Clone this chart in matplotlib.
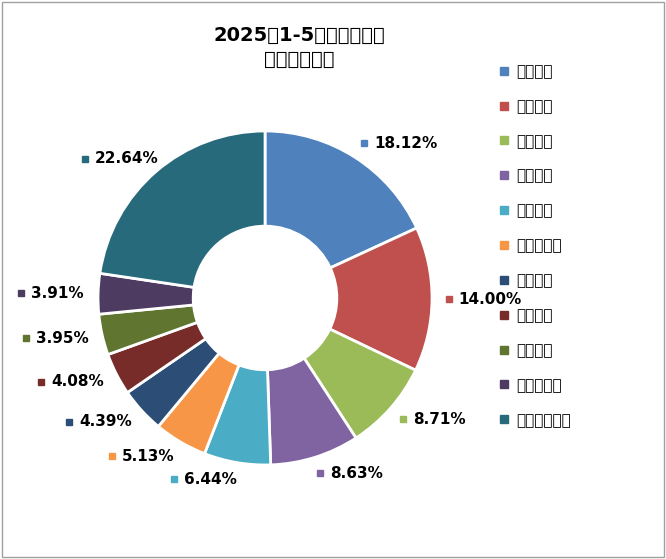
import glob
import numpy as np
import matplotlib
matplotlib.use('Agg')
import matplotlib.pyplot as plt
from matplotlib import font_manager
from matplotlib.lines import Line2D

# make sure a CJK font is registered
for f in glob.glob('/usr/share/fonts/**/*CJK*', recursive=True):
    try:
        font_manager.fontManager.addfont(f)
    except Exception:
        pass
cjk = [f.name for f in font_manager.fontManager.ttflist if 'CJK SC' in f.name]
plt.rcParams['font.family'] = (cjk[:1] or ['Noto Sans CJK SC']) + ['DejaVu Sans']

companies = ['潍柴控股', '玉柴集团', '云内动力', '安徽全柴', '浙江新柴', '东风康明斯',
             '江铃汽车', '蜂巢动力', '解放动力', '上海新动力', '其他企业合计']
shares = [18.12, 14.00, 8.71, 8.63, 6.44, 5.13, 4.39, 4.08, 3.95, 3.91, 22.64]
colors = ['#4F81BD', '#C0504D', '#9BBB59', '#8064A2', '#4BACC6', '#F79646',
          '#2C4D75', '#772C2A', '#5F7530', '#4D3B62', '#276A7C']

fig = plt.figure(figsize=(6.66, 5.59), dpi=100)
ax = fig.add_axes([0.398 - 0.2508, 0.467 - 0.2988, 0.5015, 0.5975])
wedges, _ = ax.pie(shares, colors=colors, startangle=90, counterclock=False,
                   wedgeprops=dict(width=0.57, edgecolor='white', linewidth=2))
ax.set_xlim(-1, 1); ax.set_ylim(-1, 1)
ax.axis('off')

# labels around the ring
for w, val, c in zip(wedges, shares, colors):
    ang = np.deg2rad((w.theta1 + w.theta2) / 2)
    x, y = 1.1 * np.cos(ang), 1.1 * np.sin(ang)
    if x >= 0:
        ax.plot(x + 0.0, y, 's', color=c, ms=5, clip_on=False)
        ax.text(x + 0.06, y, '%.2f%%' % val, ha='left', va='center',
                fontsize=11, fontweight='bold', family='DejaVu Sans', clip_on=False)
    else:
        ax.plot(x - 0.36, y, 's', color=c, ms=5, clip_on=False)
        ax.text(x - 0.30, y, '%.2f%%' % val, ha='left', va='center',
                fontsize=11, fontweight='bold', family='DejaVu Sans', clip_on=False)

fig.text(0.45, 0.915, '2025年1-5月多缸柴油机\n企业市场分布', ha='center', va='center',
         fontsize=14, fontweight='bold', linespacing=1.3)

handles = [Line2D([], [], marker='s', ls='', color=c, ms=6) for c in colors]
fig.legend(handles, companies, loc='upper left', bbox_to_anchor=(0.725, 0.91),
           frameon=False, fontsize=11, labelspacing=1.3, handletextpad=0.3,
           handlelength=1.0)

fig.patches.append(plt.Rectangle((0.003, 0.003), 0.994, 0.994, transform=fig.transFigure,
                                 fill=False, edgecolor='#A0A0A0', lw=1))
fig.savefig('out.png', dpi=100)
